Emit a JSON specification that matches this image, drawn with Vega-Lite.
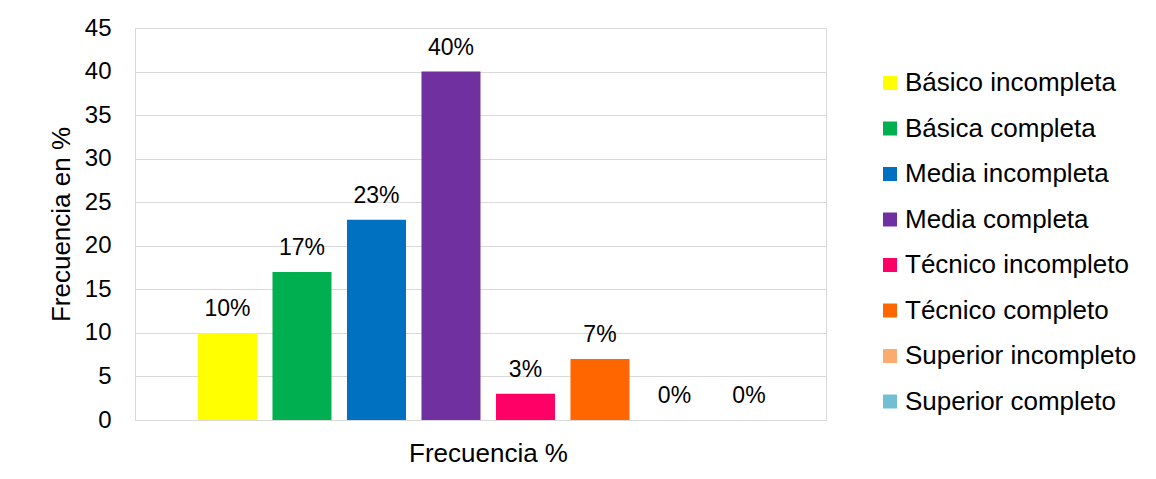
{
  "$schema": "https://vega.github.io/schema/vega-lite/v6.json",
  "width": 691,
  "height": 392,
  "autosize": {"type": "none"},
  "padding": {"left": 135, "top": 28, "right": 330, "bottom": 59},
  "background": "white",
  "config": {
    "font": "Liberation Sans",
    "view": {"stroke": "#d9d9d9", "strokeWidth": 1},
    "axis": {"labelColor": "#000000", "titleColor": "#000000", "titleFontWeight": "normal", "gridColor": "#d9d9d9", "gridWidth": 1}
  },
  "data": {
    "values": [
      {"nivel": "Básico incompleta", "valor": 10, "etiqueta": "10%"},
      {"nivel": "Básica completa", "valor": 17, "etiqueta": "17%"},
      {"nivel": "Media incompleta", "valor": 23, "etiqueta": "23%"},
      {"nivel": "Media completa", "valor": 40, "etiqueta": "40%"},
      {"nivel": "Técnico incompleto", "valor": 3, "etiqueta": "3%"},
      {"nivel": "Técnico completo", "valor": 7, "etiqueta": "7%"},
      {"nivel": "Superior incompleto", "valor": 0, "etiqueta": "0%"},
      {"nivel": "Superior completo", "valor": 0, "etiqueta": "0%"}
    ]
  },
  "encoding": {
    "x": {
      "field": "nivel",
      "type": "nominal",
      "sort": null,
      "scale": {"paddingInner": 0.208, "paddingOuter": 0.7416, "align": 0.57},
      "axis": {"labels": false, "ticks": false, "domain": false, "title": "Frecuencia %", "titleFontSize": 26, "titlePadding": 20, "titleX": 353}
    },
    "y": {
      "field": "valor",
      "type": "quantitative",
      "scale": {"domain": [0, 45], "nice": false},
      "axis": {"values": [0, 5, 10, 15, 20, 25, 30, 35, 40, 45], "ticks": false, "tickSize": 0, "domain": false, "labelFontSize": 24, "labelPadding": 24, "title": "Frecuencia en %", "titleFontSize": 26, "titlePadding": 10}
    }
  },
  "layer": [
    {
      "mark": {"type": "bar"},
      "encoding": {
        "color": {
          "field": "nivel",
          "type": "nominal",
          "sort": null,
          "scale": {
            "domain": ["Básico incompleta", "Básica completa", "Media incompleta", "Media completa", "Técnico incompleto", "Técnico completo", "Superior incompleto", "Superior completo"],
            "range": ["#FFFF00", "#00B050", "#0070C0", "#7030A0", "#FF0066", "#FF6600", "#FBAB6E", "#72BED2"]
          },
          "legend": {
            "title": null,
            "orient": "none",
            "legendX": 742,
            "legendY": 42,
            "symbolType": "square",
            "symbolSize": 196,
            "symbolStrokeWidth": 0,
            "labelFontSize": 26,
            "labelColor": "#000000",
            "labelOffset": 2,
            "rowPadding": 19.5,
            "labelLimit": 300
          }
        }
      }
    },
    {
      "mark": {"type": "text", "baseline": "alphabetic", "dy": -17, "fontSize": 23, "color": "#000000"},
      "encoding": {
        "text": {"field": "etiqueta"}
      }
    }
  ]
}
